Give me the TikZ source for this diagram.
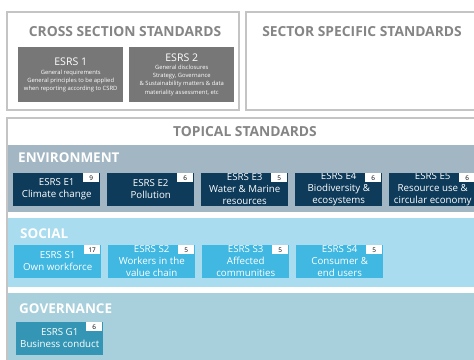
\documentclass[tikz,border=0pt]{standalone}
\usepackage{fontspec}
\setmainfont{Open Sans}
\usetikzlibrary{positioning}

\definecolor{framegray}{HTML}{C4C4C4}
\definecolor{titlegray}{HTML}{858585}
\definecolor{crossgray}{HTML}{777777}
\definecolor{envband}{HTML}{A2B7C3}
\definecolor{envbox}{HTML}{0E3B5A}
\definecolor{socband}{HTML}{A9DCEF}
\definecolor{socbox}{HTML}{41B8E2}
\definecolor{govband}{HTML}{A8CFDC}
\definecolor{govbox}{HTML}{3496B4}

\tikzset{
	frame/.style={draw=framegray, line width=1.2pt},
	heading/.style={font=\bfseries\fontsize{11.8}{13}\selectfont, text=titlegray},
	bandlabel/.style={anchor=west, inner sep=0pt, font=\bfseries\fontsize{11.5}{13}\selectfont, text=white},
	crossbox/.style={anchor=north west, fill=crossgray, minimum width=31.5mm, minimum height=16.5mm, inner sep=0pt, align=center, text=white, font=\fontsize{5}{6.9}\selectfont},
	topic/.style={anchor=north west, minimum width=26.1mm, minimum height=9.9mm, inner sep=0pt},
	topictext/.style={anchor=center, inner sep=0pt, align=center, text=white, font=\fontsize{8.3}{10.2}\selectfont},
	numtag/.style={anchor=north east, fill=white, minimum width=4.8mm, minimum height=2.7mm, inner sep=0pt, font=\fontsize{5.5}{6}\selectfont, text=black}
}

\begin{document}
\begin{tikzpicture}[x=0.3mm, y=-0.3mm]

	\clip (0,0) rectangle (474,359);
	\fill[white] (0,0) rectangle (474,359);

	\pgfmathsetmacro{\pitch}{94}

	% draw cross section standards
	\draw[frame] (7,12) rectangle (239,110);
	\node[heading] (crosstitle) at (125,32) {CROSS SECTION STANDARDS};
	\node[crossbox] (esrs1) at (18,47) {{\fontsize{9}{10}\selectfont ESRS 1}\\[1pt] General requirements\\General principles to be applied\\when reporting according to CSRD};
	\node[crossbox] (esrs2) at (129,47) {{\fontsize{9}{10}\selectfont ESRS 2}\\[0pt] General disclosures\\Strategy, Governance\\\& Sustainability matters \& data\\materiality assessment, etc};

	% draw sector specific standards
	\draw[frame] (246,12) rectangle (490,110);
	\node[heading] (sectortitle) at (362,32) {SECTOR SPECIFIC STANDARDS};

	% draw topical standards
	\fill[envband] (8,145) rectangle (490,212);
	\fill[socband] (8,218) rectangle (490,287);
	\fill[govband] (8,293) rectangle (490,370);
	\draw[frame] (7,118) rectangle (490,370);
	\node[heading] (topicaltitle) at (245,132) {TOPICAL STANDARDS};

	\node[bandlabel] (envlabel) at (18,158) {ENVIRONMENT};
	\node[bandlabel] (soclabel) at (20,234) {SOCIAL};
	\node[bandlabel] (govlabel) at (19,309) {GOVERNANCE};

	% draw environment boxes
	\foreach \i/\desc/\num in {1/{Climate change}/9, 2/{Pollution}/6, 3/{Water \& Marine\\resources}/5, 4/{Biodiversity \&\\ecosystems}/6, 5/{Resource use \&\\circular economy}/6}
	{
		\pgfmathsetmacro{\bx}{13 + \pitch * (\i - 1)}
		\node[topic, fill=envbox, path picture={\node[topictext] (e\i text) at ([yshift=0.1mm]path picture bounding box.center) {ESRS E\i\\\desc};}] (e\i) at (\bx, 173) {};
		\node[numtag] (e\i num) at ([xshift=-0.3mm]e\i.north east) {\num};
	}

	% draw social boxes
	\foreach \i/\desc/\num in {1/{Own workforce}/17, 2/{Workers in the\\value chain}/5, 3/{Affected\\communities}/5, 4/{Consumer \&\\end users}/5}
	{
		\pgfmathsetmacro{\bx}{14 + \pitch * (\i - 1)}
		\node[topic, fill=socbox, path picture={\node[topictext] (s\i text) at ([yshift=0.1mm]path picture bounding box.center) {ESRS S\i\\\desc};}] (s\i) at (\bx, 245) {};
		\node[numtag] (s\i num) at ([xshift=-0.3mm]s\i.north east) {\num};
	}

	% draw governance box
	\node[topic, fill=govbox, path picture={\node[topictext] (g1 text) at ([yshift=0.1mm]path picture bounding box.center) {ESRS G1\\Business conduct};}] (g1) at (16, 322) {};
	\node[numtag] (g1 num) at ([xshift=-0.3mm]g1.north east) {6};

\end{tikzpicture}
\end{document}
